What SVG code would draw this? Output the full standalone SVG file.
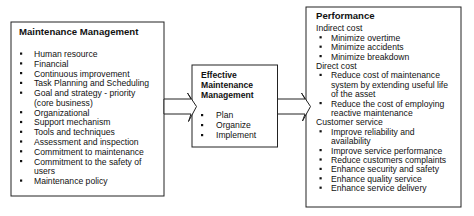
<svg xmlns="http://www.w3.org/2000/svg" width="474" height="216" viewBox="0 0 474 216">
<style>
.box{fill:#fff;stroke:#222;stroke-width:1}
.arr{fill:#fff;stroke:#222;stroke-width:1;stroke-linejoin:miter}
text{font-family:"Liberation Sans",Arial,sans-serif;fill:#111}
.t{font-size:8.6px}
.h{font-size:9.6px;font-weight:bold}
.hm{font-size:8.6px;font-weight:bold}
.b{fill:#111}
</style>
<rect width="474" height="216" fill="#fff"/>
<g id="maintenance-management">
<rect class="box" x="11" y="22" width="153" height="174"/>
<text class="h" x="19" y="35">Maintenance Management</text>
<g class="b">
<rect x="20" y="52.5" width="2.2" height="2.2"/>
<rect x="20" y="62.3" width="2.2" height="2.2"/>
<rect x="20" y="72" width="2.2" height="2.2"/>
<rect x="20" y="81.8" width="2.2" height="2.2"/>
<rect x="20" y="91.6" width="2.2" height="2.2"/>
<rect x="20" y="111.1" width="2.2" height="2.2"/>
<rect x="20" y="120.9" width="2.2" height="2.2"/>
<rect x="20" y="130.7" width="2.2" height="2.2"/>
<rect x="20" y="140.4" width="2.2" height="2.2"/>
<rect x="20" y="150.2" width="2.2" height="2.2"/>
<rect x="20" y="160" width="2.2" height="2.2"/>
<rect x="20" y="179.5" width="2.2" height="2.2"/>
</g>
<text class="t" x="34" y="57">Human resource</text>
<text class="t" x="34" y="66.8">Financial</text>
<text class="t" x="34" y="76.5">Continuous improvement</text>
<text class="t" x="34" y="86.3">Task Planning and Scheduling</text>
<text class="t" x="34" y="96.1">Goal and strategy - priority</text>
<text class="t" x="34" y="105.9">(core business)</text>
<text class="t" x="34" y="115.6">Organizational</text>
<text class="t" x="34" y="125.4">Support mechanism</text>
<text class="t" x="34" y="135.2">Tools and techniques</text>
<text class="t" x="34" y="144.9">Assessment and inspection</text>
<text class="t" x="34" y="154.7">Commitment to maintenance</text>
<text class="t" x="34" y="164.5">Commitment to the safety of</text>
<text class="t" x="34" y="174.2">users</text>
<text class="t" x="34" y="184">Maintenance policy</text>
</g>
<g id="effective-maintenance-management">
<rect class="box" x="192" y="65" width="85.5" height="82"/>
<text class="hm" x="201" y="78">Effective</text>
<text class="hm" x="201" y="88">Maintenance</text>
<text class="hm" x="201" y="97.5">Management</text>
<g class="b">
<rect x="201" y="114" width="2.2" height="2.2"/>
<rect x="201" y="124" width="2.2" height="2.2"/>
<rect x="201" y="134" width="2.2" height="2.2"/>
</g>
<text class="t" x="216" y="118">Plan</text>
<text class="t" x="216" y="128">Organize</text>
<text class="t" x="216" y="138">Implement</text>
</g>
<g id="performance">
<rect class="box" x="306" y="7" width="155" height="200"/>
<text class="h" x="316" y="19">Performance</text>
<text class="t" x="316" y="31.3">Indirect cost</text>
<text class="t" x="331" y="40.7">Minimize overtime</text>
<text class="t" x="331" y="50.1">Minimize accidents</text>
<text class="t" x="331" y="59.5">Minimize breakdown</text>
<text class="t" x="316" y="68.9">Direct cost</text>
<text class="t" x="331" y="78.3">Reduce cost of maintenance</text>
<text class="t" x="331" y="87.7">system by extending useful life</text>
<text class="t" x="331" y="97.1">of the asset</text>
<text class="t" x="331" y="106.5">Reduce the cost of employing</text>
<text class="t" x="331" y="115.9">reactive maintenance</text>
<text class="t" x="316" y="125.3">Customer service</text>
<text class="t" x="331" y="134.7">Improve reliability and</text>
<text class="t" x="331" y="144.1">availability</text>
<text class="t" x="331" y="153.5">Improve service performance</text>
<text class="t" x="331" y="162.9">Reduce customers complaints</text>
<text class="t" x="331" y="172.3">Enhance security and safety</text>
<text class="t" x="331" y="181.7">Enhance quality service</text>
<text class="t" x="331" y="191.1">Enhance service delivery</text>
<g class="b">
<rect x="319.5" y="36.2" width="2.2" height="2.2"/>
<rect x="319.5" y="45.6" width="2.2" height="2.2"/>
<rect x="319.5" y="55" width="2.2" height="2.2"/>
<rect x="319.5" y="73.8" width="2.2" height="2.2"/>
<rect x="319.5" y="102" width="2.2" height="2.2"/>
<rect x="319.5" y="130.2" width="2.2" height="2.2"/>
<rect x="319.5" y="149" width="2.2" height="2.2"/>
<rect x="319.5" y="158.4" width="2.2" height="2.2"/>
<rect x="319.5" y="167.8" width="2.2" height="2.2"/>
<rect x="319.5" y="177.2" width="2.2" height="2.2"/>
<rect x="319.5" y="186.6" width="2.2" height="2.2"/>
</g>
</g>
<g id="connectors">
<polygon class="arr" points="164,99 191,99 187.5,93 196.5,106.5 188.5,121.5 191,114 164,114"/>
<polygon class="arr" points="277.5,99 305,99 301.5,93 310.5,106.5 302.5,121 305,114 277.5,114"/>
</g>
</svg>
